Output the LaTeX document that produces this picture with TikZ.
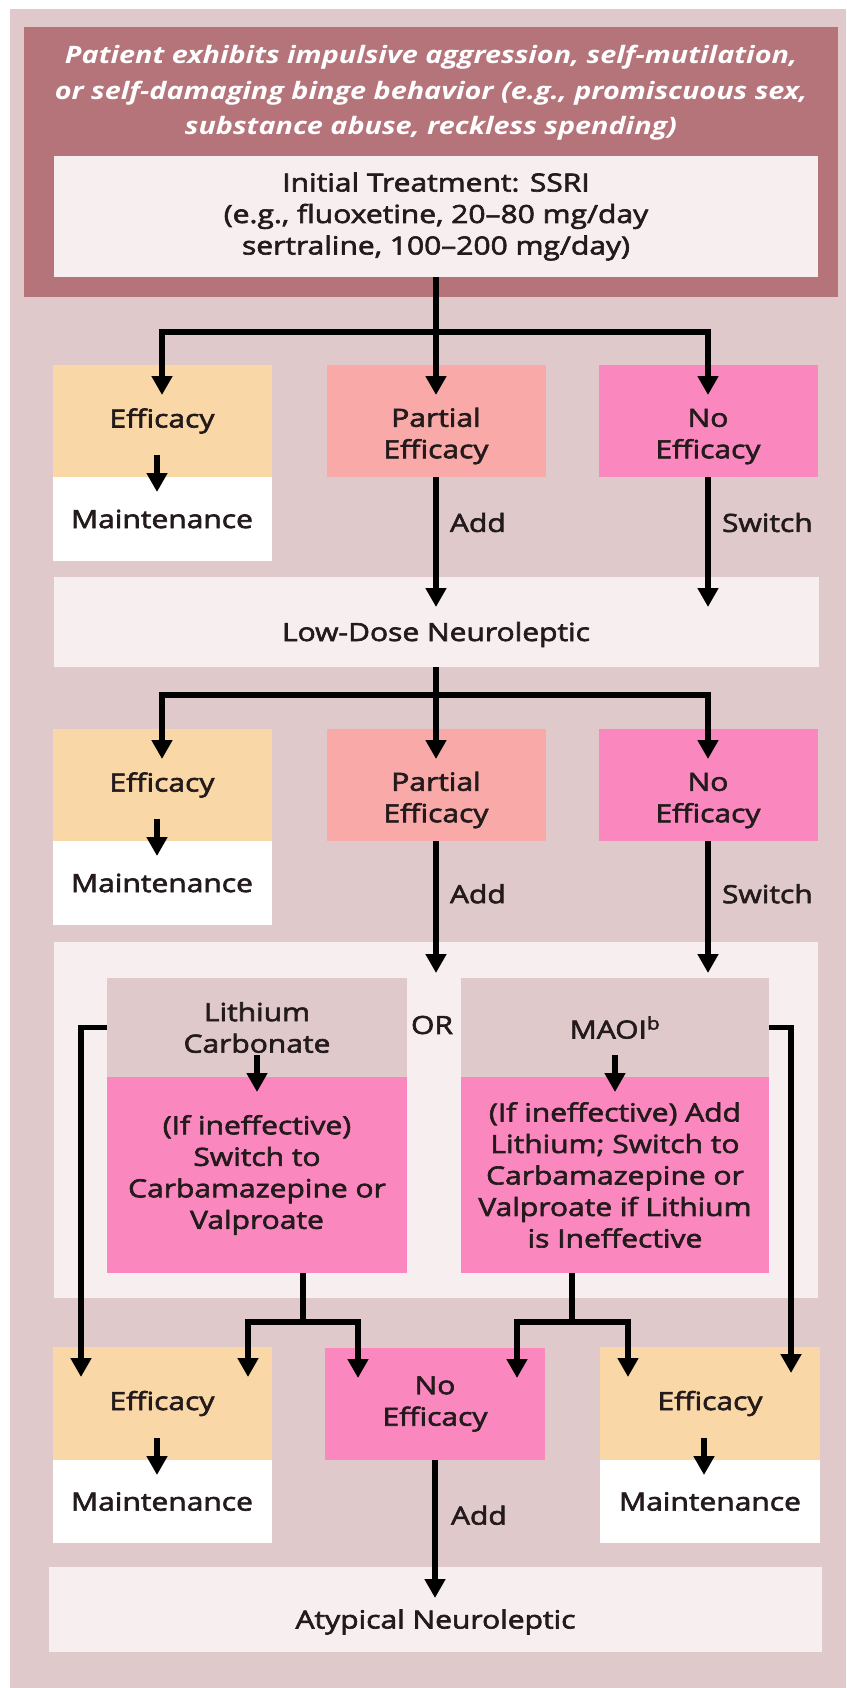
\documentclass[tikz,border=0pt]{standalone}
\usepackage{fontspec}
\setmainfont{Open Sans}[FakeStretch=1.2, FakeBold=2.5]
\newfontfamily\headfont{Open Sans}[FakeStretch=1.2]
\usetikzlibrary{positioning,calc,arrows.meta}

\definecolor{bgrose}{HTML}{E0C9CB}
\definecolor{darkrose}{HTML}{B5737A}
\definecolor{paleback}{HTML}{F6EEEF}
\definecolor{peach}{HTML}{F9D7A6}
\definecolor{salmon}{HTML}{F8A9A8}
\definecolor{hotpink}{HTML}{FA88BE}
\definecolor{inkdark}{HTML}{231A1C}

\newcommand{\toppad}{\rule{0pt}{49pt}}

\begin{document}
\begin{tikzpicture}[x=1pt, y=-1pt, line width=5.5pt, ->, >={Triangle[width=20pt,length=19pt]},
    every node/.style={font=\fontsize{25}{31.5}\selectfont, text=inkdark, inner sep=0pt, outer sep=0pt, align=center},
    box/.style={minimum width=219pt, minimum height=112pt},
    maint/.style={fill=white, minimum width=219pt, minimum height=84pt}]

    \useasboundingbox (0,0) rectangle (846,1688);
    \fill[bgrose] (10,9) rectangle (846,1688);

    % top block
    \node[fill=darkrose, minimum width=814pt, minimum height=270pt, anchor=north west] (patient) at (24,27) {};
    \node[font=\headfont\bfseries\itshape\fontsize{24}{35.5}\selectfont, text=white] (patienttext) at (431,93)
        {Patient exhibits impulsive aggression, self-mutilation,\\or self-damaging binge behavior (e.g., promiscuous sex,\\substance abuse, reckless spending)};
    \node[fill=paleback, minimum width=764pt, minimum height=121pt] (ssri) at (436,216.5)
        {Initial Treatment: SSRI\\(e.g., fluoxetine, 20--80 mg/day\\sertraline, 100--200 mg/day)};

    % first response row
    \node[box, fill=peach] (effA) at (162,421) {Efficacy};
    \node[maint, below=0pt of effA] (mainA) {Maintenance};
    \node[box, fill=salmon] (partA) at (436,421) {\toppad Partial\\Efficacy};
    \node[box, fill=hotpink] (noA) at (708,421) {\toppad No\\Efficacy};

    \draw (ssri.south) -- ++(0,55) -| ([yshift=-30pt]effA.north);
    \draw (ssri.south) -- ++(0,55) -| ([yshift=-30pt]noA.north);
    \draw (ssri.south) -- ([yshift=-30pt]partA.north);
    \draw ([xshift=-5pt,yshift=22pt]effA.south) -- ([xshift=-5pt,yshift=-15pt]mainA.north);

    \node[fill=paleback, minimum width=765pt, minimum height=90pt, text height=44pt] (lowdose) at (436,622) {Low-Dose Neuroleptic};

    \draw (partA.south) -- node[right=14pt, pos=0.35] {Add} ($(partA.south |- lowdose.north)+(0,30)$);
    \draw (noA.south) -- node[right=14pt, pos=0.35] {Switch} ($(noA.south |- lowdose.north)+(0,30)$);

    % second response row
    \node[box, fill=peach] (effB) at (162,785) {Efficacy};
    \node[maint, below=0pt of effB] (mainB) {Maintenance};
    \node[box, fill=salmon] (partB) at (436,785) {\toppad Partial\\Efficacy};
    \node[box, fill=hotpink] (noB) at (708,785) {\toppad No\\Efficacy};

    \draw (lowdose.south) -- ++(0,28) -| ([yshift=-30pt]effB.north);
    \draw (lowdose.south) -- ++(0,28) -| ([yshift=-30pt]noB.north);
    \draw (lowdose.south) -- ([yshift=-30pt]partB.north);
    \draw ([xshift=-5pt,yshift=22pt]effB.south) -- ([xshift=-5pt,yshift=-15pt]mainB.north);

    % mood stabilizer panel
    \node[fill=paleback, minimum width=764pt, minimum height=356pt] (panel) at (436,1120) {};
    \node[fill=bgrose, minimum width=300pt, minimum height=99pt] (lith) at (257,1027.5) {Lithium\\Carbonate};
    \node[fill=hotpink, minimum width=300pt, minimum height=196pt, below=0pt of lith] (lithalt)
        {(If ineffective)\\Switch to\\Carbamazepine or\\Valproate};
    \node[fill=bgrose, minimum width=308pt, minimum height=99pt] (maoi) at (615,1027.5) {MAOI\textsuperscript{b}};
    \node[fill=hotpink, minimum width=308pt, minimum height=196pt, below=0pt of maoi] (maoialt)
        {(If ineffective) Add\\Lithium; Switch to\\Carbamazepine or\\Valproate if Lithium\\is Ineffective};
    \node (or) at (432,1025) {OR};

    \draw (partB.south) -- node[right=14pt, pos=0.4] {Add} ($(partB.south |- panel.north)+(0,31)$);
    \draw (noB.south) -- node[right=14pt, pos=0.4] {Switch} ($(noB.south |- panel.north)+(0,31)$);
    \draw ([yshift=22pt]lith.south) -- ([yshift=-15pt]lithalt.north);
    \draw ([yshift=22pt]maoi.south) -- ([yshift=-15pt]maoialt.north);

    % third response row
    \node[box, fill=peach, minimum height=113pt] (effC) at (162,1403.5) {Efficacy};
    \node[maint, minimum height=83pt, below=0pt of effC] (mainC) {Maintenance};
    \node[box, fill=hotpink, minimum width=220pt] (noC) at (435,1404) {No\\Efficacy};
    \node[box, fill=peach, minimum width=220pt, minimum height=113pt] (effD) at (710,1403.5) {Efficacy};
    \node[maint, minimum width=220pt, minimum height=83pt, below=0pt of effD] (mainD) {Maintenance};

    \draw (lith.west) -| ([xshift=-81pt,yshift=-30pt]effC.north);
    \draw (maoi.east) -| ([xshift=81pt,yshift=-26pt]effD.north);
    \draw ([xshift=46pt]lithalt.south) -- ++(0,49) -| ([xshift=86pt,yshift=-30pt]effC.north);
    \draw ([xshift=46pt]lithalt.south) -- ++(0,49) -| ([xshift=-77pt,yshift=-30pt]noC.north);
    \draw ([xshift=-43pt]maoialt.south) -- ++(0,49) -| ([xshift=82pt,yshift=-30pt]noC.north);
    \draw ([xshift=-43pt]maoialt.south) -- ++(0,49) -| ([xshift=-82pt,yshift=-30pt]effD.north);
    \draw ([xshift=-5pt,yshift=22pt]effC.south) -- ([xshift=-5pt,yshift=-15pt]mainC.north);
    \draw ([xshift=-6pt,yshift=22pt]effD.south) -- ([xshift=-6pt,yshift=-15pt]mainD.north);

    \node[fill=paleback, minimum width=773pt, minimum height=85pt, text height=44pt] (atypical) at (435.5,1609.5) {Atypical Neuroleptic};
    \draw (noC.south) -- node[right=16pt, pos=0.4] {Add} ($(noC.south |- atypical.north)+(0,31)$);

\end{tikzpicture}
\end{document}
